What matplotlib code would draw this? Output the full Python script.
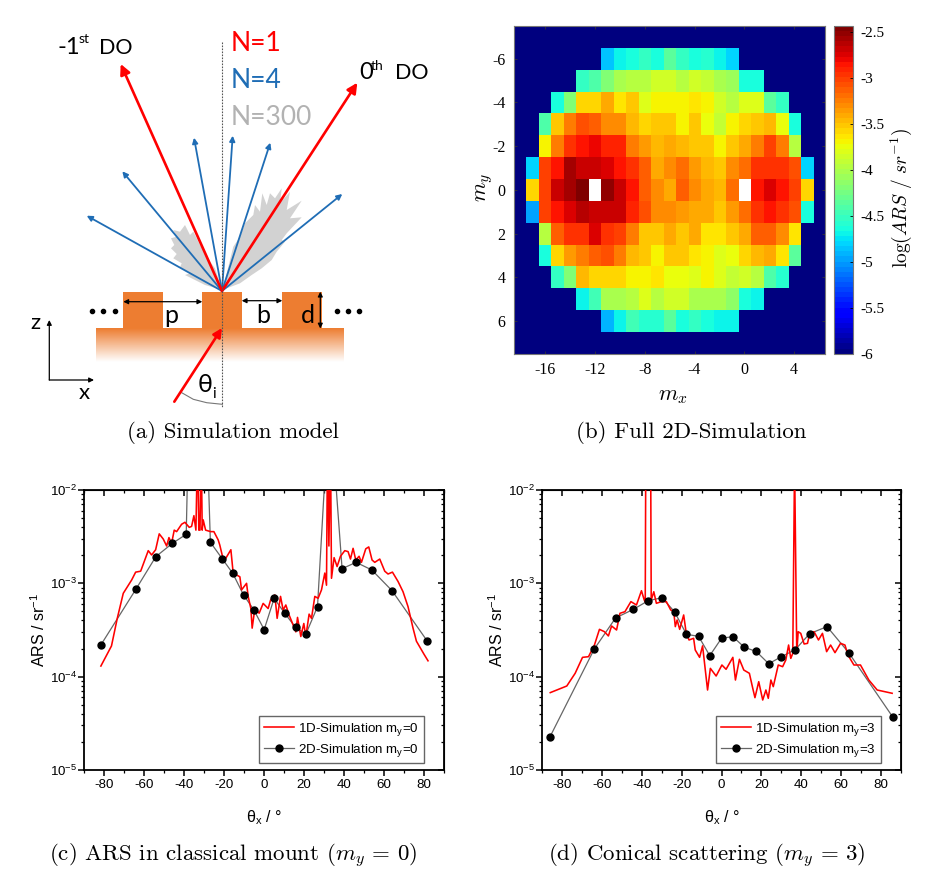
import numpy as np
import matplotlib
matplotlib.use('Agg')
import matplotlib.pyplot as plt
from matplotlib.colors import LinearSegmentedColormap
from matplotlib.patches import Rectangle, Polygon
from matplotlib.ticker import FixedLocator, NullFormatter

plt.rcParams['font.family'] = ['Liberation Sans', 'DejaVu Sans']
plt.rcParams['mathtext.fontset'] = 'custom'
plt.rcParams['mathtext.rm'] = 'Liberation Sans'
plt.rcParams['mathtext.it'] = 'Liberation Sans:italic'
plt.rcParams['axes.unicode_minus'] = False

W, H = 937, 884

# ---- panel (b): log(ARS), one list per my row, first_col is the index of mx=-18+col
my_rows = [-6, -5, -4, -3, -2, -1, 0, 1, 2, 3, 4, 5, 6]
first_col = [7, 5, 3, 2, 2, 1, 1, 1, 2, 2, 3, 5, 7]
row_m6 = [-4.86, -4.68, -4.62, -4.55, -4.62, -4.36, -4.55, -4.63, -4.56, -4.68, -4.80]
row_m5 = [-4.5, -4.42, -4.22, -4.03, -3.98, -3.98, -3.85, -3.85, -3.95, -3.85, -3.93, -4.05, -4.1, -4.62, -4.62]
row_m4 = [-4.65, -4.2, -3.6, -3.6, -3.42, -3.62, -3.52, -3.82, -3.7, -3.7, -3.7, -3.62, -3.68, -3.87, -3.95, -3.83, -3.83, -4.35, -4.55]
row_m3 = [-4.4, -3.52, -3.25, -3.1, -3.15, -3.28, -3.32, -3.47, -3.6, -3.53, -3.53, -3.68, -3.5, -3.75, -3.93, -3.7, -3.6, -3.5, -3.45, -3.75, -4.63]
row_m2 = [-3.68, -3.27, -2.97, -2.87, -2.78, -2.93, -2.93, -3.22, -3.38, -3.47, -3.4, -3.47, -3.53, -3.55, -3.68, -3.53, -3.42, -3.23, -3.03, -3.22, -3.97]
row_m1 = [-4.8, -3.05, -2.85, -2.6, -2.68, -2.68, -2.72, -2.85, -2.97, -3.15, -3.42, -3.3, -3.2, -3.38, -3.45, -3.55, -3.33, -3.18, -2.95, -2.95, -2.95, -3.1, -4.8]
row_0 = [-3.58, -3.02, -2.7, -2.58, -2.45, np.nan, -2.55, -2.7, -2.85, -3.12, -3.33, -3.43, -3.12, -3.3, -3.43, -3.48, -3.2, np.nan, -2.87, -2.72, -2.85, -3.03, -3.58]
row_p1 = [-4.95, -3.05, -2.85, -2.72, -2.62, -2.68, -2.7, -2.7, -2.93, -3.1, -3.33, -3.28, -3.35, -3.4, -3.42, -3.52, -3.38, -3.17, -2.95, -2.87, -2.95, -3.1, -4.65]
row_p2 = [-3.95, -3.12, -2.95, -2.95, -2.75, -2.95, -3.03, -3.27, -3.5, -3.5, -3.42, -3.5, -3.43, -3.63, -3.63, -3.53, -3.42, -3.15, -3.15, -3.3, -3.65]
row_p3 = [-4.63, -3.6, -3.37, -3.25, -3.13, -3.07, -3.27, -3.47, -3.52, -3.68, -3.53, -3.53, -3.63, -3.7, -3.82, -3.74, -3.6, -3.47, -3.43, -3.65, -4.35]
row_p4 = [-4.5, -4.2, -3.47, -3.58, -3.58, -3.58, -3.7, -3.7, -3.62, -3.72, -3.72, -3.83, -3.68, -3.82, -3.9, -3.85, -3.97, -4.4, -4.6]
row_p5 = [-4.67, -4.45, -4.05, -4.05, -3.95, -3.8, -3.95, -3.88, -3.88, -4.05, -4.0, -4.05, -4.15, -4.65, -4.67]
row_p6 = [-4.9, -4.68, -4.45, -4.58, -4.58, -4.35, -4.62, -4.55, -4.62, -4.68, -4.72]
all_rows = [row_m6, row_m5, row_m4, row_m3, row_m2, row_m1, row_0, row_p1, row_p2, row_p3, row_p4, row_p5, row_p6]

# ---- panel (c): theta_x and log10(ARS), my=0
c_1d_x = [-81.7, -76.4, -73.5, -70.5, -66.3, -64.3, -61.8, -58, -56.3, -54.3, -52.5, -50.5, -48.8, -47.65, -46.3, -45, -43.8, -41.3, -39.65, -37.5, -36.3, -35.15, -34.15, -33.3, -32.7, -32.1, -31.5, -31, -30.5, -29.3, -26.8, -25.15, -23, -22.2, -20.8, -19.15, -16.65, -15.5, -12.15, -11.3, -8.8, -8, -6.65, -6, -4.65, -2.5, -0.5, 2, 3.2, 5.35, 6.5, 8.2, 9.5, 10.85, 12.5, 14.2, 15.85, 16.7, 18.35, 19.85, 20.85, 22.5, 23.7, 25.35, 27, 28.7, 30.35, 31.2, 31.7, 32.4, 33.2, 33.7, 35, 36.5, 38.2, 40.35, 42, 43.2, 44.5, 45.85, 47.5, 48.7, 50.85, 52.35, 54, 55.35, 57.85, 60.35, 62, 64.2, 67, 69.5, 72, 74.5, 76.2, 80, 82]
c_1d_y = [-3.886, -3.671, -3.375, -3.107, -2.964, -2.88, -2.87, -2.65, -2.696, -2.64, -2.47, -2.525, -2.6, -2.51, -2.57, -2.43, -2.446, -2.367, -2.346, -2.40, -2.39, -2.275, -2.43, -1.5, -2.43, -2.43, -1.5, -2.43, -2.32, -2.43, -2.446, -2.446, -2.535, -2.59, -2.715, -2.73, -2.64, -2.89, -2.93, -3.07, -3.0, -3.14, -3.27, -3.48, -3.27, -3.32, -3.215, -3.27, -3.18, -3.125, -3.375, -3.14, -3.286, -3.232, -3.34, -3.43, -3.52, -3.365, -3.57, -3.43, -3.57, -3.33, -3.375, -3.14, -3.16, -3.07, -2.89, -3.02, -1.5, -2.6, -1.5, -2.946, -2.725, -2.82, -2.71, -2.65, -2.66, -2.74, -2.625, -2.75, -2.71, -2.775, -2.63, -2.61, -2.75, -2.775, -2.74, -2.87, -2.90, -2.88, -2.98, -3.09, -3.25, -3.48, -3.62, -3.76, -3.83]
c_2d_x = [-81.7, -64, -54.2, -45.9, -39, -37.5, -29.2, -26.9, -21, -15.7, -10.3, -5.2, 0, 5, 10.3, 15.7, 20.9, 26.7, 32.7, 39, 46, 53.9, 64, 81.6]
c_2d_y = [-3.66, -3.057, -2.714, -2.571, -2.475, -1.0, -1.0, -2.56, -2.736, -2.893, -3.125, -3.282, -3.496, -3.161, -3.321, -3.471, -3.543, -3.25, -1.0, -2.843, -2.775, -2.857, -3.079, -3.618]
# the peak samples of the 2D series run off the top, no marker shows there
c_2d_marked = [0, 1, 2, 3, 4, 7, 8, 9, 10, 11, 12, 13, 14, 15, 16, 17, 19, 20, 21, 22, 23]

# ---- panel (d): theta_x and log10(ARS), my=3
d_1d_x = [-86, -77.7, -73.5, -69.8, -66.8, -63.8, -61.3, -58.8, -56.8, -55.2, -52.7, -51, -48.5, -45.5, -42.7, -40.2, -38.8, -38.3, -38, -35.6, -35.3, -34, -32.7, -30.2, -27.7, -25.5, -24, -23.2, -22.3, -21, -19, -17.7, -16.3, -14, -13.2, -11, -9.5, -7, -5.6, -2.7, 0.2, 2.3, 5.7, 7, 9, 11.2, 14, 15.7, 16.8, 18.7, 20.7, 22.3, 23.5, 24.8, 26, 28.5, 30.7, 32.3, 33.7, 34.8, 35.8, 36.7, 37.8, 38.5, 39.8, 41.5, 43.2, 44.3, 46.5, 48.7, 50.7, 52.8, 54.8, 57, 59.8, 62, 63.5, 66.5, 69.8, 74, 78.2, 85.7]
d_1d_y = [-4.171, -4.10, -3.964, -3.793, -3.786, -3.66, -3.493, -3.518, -3.564, -3.457, -3.5, -3.321, -3.304, -3.196, -3.232, -3.079, -3.179, -3.2, -1.5, -1.5, -3.18, -3.09, -3.214, -3.196, -3.196, -3.286, -3.30, -3.464, -3.393, -3.493, -3.339, -3.536, -3.607, -3.589, -3.714, -3.793, -3.67, -4.143, -3.911, -3.993, -3.875, -3.921, -3.793, -4.036, -3.814, -3.929, -3.964, -4.125, -4.225, -4.054, -4.25, -4.143, -4.232, -4.036, -4.107, -3.875, -3.893, -3.821, -3.661, -3.804, -3.75, -1.7, -3.75, -3.518, -3.536, -3.65, -3.643, -3.536, -3.518, -3.607, -3.536, -3.732, -3.661, -3.743, -3.643, -3.661, -3.768, -3.875, -3.875, -4.036, -4.143, -4.178]
d_2d_x = [-86.1, -63.9, -53.2, -44.3, -36.8, -29.9, -23.6, -17.6, -11.5, -5.9, 0, 5.7, 11.5, 17.4, 23.7, 30.1, 37, 44.3, 53, 63.9, 86]
d_2d_y = [-4.643, -3.704, -3.371, -3.279, -3.186, -3.154, -3.304, -3.546, -3.568, -3.775, -3.589, -3.571, -3.686, -3.729, -3.861, -3.786, -3.711, -3.539, -3.464, -3.743, -4.432]

# ---- panel (a): schematic, in image pixels
hit = (222, 291)
blue_tips = [(86.7, 215.7), (122.3, 171.3), (194, 137.7), (232.7, 135.7), (270.3, 142.7), (342.3, 194)]
red_tips = [(120.7, 64), (357.3, 82.7)]
incident = [(174.3, 401.7), (222, 328)]
tooth_left = [123, 202.3, 281.7]
fan_left = [(222.3, 290), (205, 285), (185, 275), (190, 273.3), (180, 267.3), (181.7, 263.3), (173.3, 258.3), (176.7, 254), (171, 248.3), (174.3, 245), (171, 238.3), (176.7, 236.7), (173.3, 230), (180, 231.7), (185, 225), (190, 235), (193.3, 231.7), (200, 245), (205, 251.7), (210, 261.7), (215, 268.3), (220, 283.3)]
fan_right = [(222.3, 290), (225, 280), (230, 260), (233.3, 246.7), (240, 236.7), (245, 223.3), (253.3, 215), (255, 205), (260, 211.7), (262.3, 193.3), (266.7, 205), (270, 193.3), (275, 198.3), (281.7, 188.3), (280, 203.3), (290, 191.7), (286.7, 210), (301.7, 200.7), (290, 218.3), (301.7, 217.3), (286.7, 233.3), (281.7, 240), (285, 241.7), (276.7, 251.7), (271.7, 260), (261.7, 268.3), (251.7, 275), (240, 283.3)]
arc_x = [181.7, 193.3, 206.7, 222.3]
arc_y = [392.7, 399.3, 402.7, 404.3]

ORANGE = '#ed7d31'
BLUE = '#1f6db5'
RED = '#ff0000'
GREY = '#b2b2b2'


def px_axes(x0, y0, x1, y1):
    return fig.add_axes([x0 / W, 1 - y1 / H, (x1 - x0) / W, (y1 - y0) / H])


def arrow(a, start, end, color, lw, size, style='-|>'):
    a.annotate('', xy=end, xytext=start,
               arrowprops=dict(arrowstyle=style, color=color, lw=lw, mutation_scale=size,
                               shrinkA=0, shrinkB=0))


def draw_ars(a, x1d, y1d, x2d, y2d, marked, my):
    a.plot(x1d, 10 ** np.array(y1d), color='red', lw=1.15, zorder=3, label='1D-Simulation m$_{\\mathregular{y}}$=%d' % my)
    a.plot(x2d, 10 ** np.array(y2d), color='#666666', lw=0.9, zorder=2)
    mx = [x2d[i] for i in marked]
    my_vals = [10 ** y2d[i] for i in marked]
    a.plot(mx, my_vals, 'o', color='black', ms=5, zorder=4)
    # legend handle for the line + marker series
    a.plot([], [], '-o', color='#666666', mfc='black', mec='black', ms=5, lw=0.9,
           label='2D-Simulation m$_{\\mathregular{y}}$=%d' % my)
    a.set_xlim(-90, 90)
    a.set_yscale('log')
    a.set_ylim(1e-5, 1e-2)
    a.set_xticks(np.arange(-80, 81, 20))
    a.set_xticks(np.arange(-90, 91, 10), minor=True)
    a.set_yticks([1e-5, 1e-4, 1e-3, 1e-2])
    a.set_yticklabels(['$\\mathregular{10^{-5}}$', '$\\mathregular{10^{-4}}$', '$\\mathregular{10^{-3}}$', '$\\mathregular{10^{-2}}$'])
    a.yaxis.set_minor_locator(FixedLocator([m * 10.0 ** e for e in (-5, -4, -3) for m in range(2, 10)]))
    a.yaxis.set_minor_formatter(NullFormatter())
    a.tick_params(which='major', length=4.2, width=1.1, labelsize=9.6, pad=2)
    a.tick_params(which='minor', length=2.4, width=0.9)
    a.tick_params(axis='y', which='major', pad=1)
    for s in a.spines.values():
        s.set_linewidth(1.3)
    top = a.secondary_xaxis('top')
    top.set_xticks(np.arange(-80, 81, 20))
    top.set_xticks(np.arange(-90, 91, 10), minor=True)
    top.tick_params(which='both', direction='in', labeltop=False)
    top.tick_params(which='major', length=4.2, width=1.1)
    top.tick_params(which='minor', length=2.4, width=0.9)
    right = a.secondary_yaxis('right')
    right.set_yticks([1e-5, 1e-4, 1e-3, 1e-2])
    right.yaxis.set_minor_locator(FixedLocator([m * 10.0 ** e for e in (-5, -4, -3) for m in range(2, 10)]))
    right.yaxis.set_minor_formatter(NullFormatter())
    right.tick_params(which='both', direction='in', labelright=False)
    right.tick_params(which='major', length=4.2, width=1.1)
    right.tick_params(which='minor', length=2.4, width=0.9)
    a.set_ylabel('ARS / sr$^{\\mathregular{-1}}$', fontsize=11.5, labelpad=1)
    a.set_xlabel('$\\mathregular{\\theta_x}$ / °', fontsize=11.5, labelpad=13)
    leg = a.legend(loc='lower right', bbox_to_anchor=(0.944, 0.024), fontsize=9.6, fancybox=False,
                   edgecolor='#666666', framealpha=1, borderaxespad=0, labelspacing=0.28,
                   handlelength=2.3, handletextpad=0.3, borderpad=0.35)
    leg.get_frame().set_linewidth(1.0)


fig = plt.figure(figsize=(W / 100, H / 100), dpi=100)

# panel (a) + captions share one overlay in pixel coordinates
ov = fig.add_axes([0, 0, 1, 1])
ov.set_xlim(0, W)
ov.set_ylim(H, 0)
ov.axis('off')

ramp = LinearSegmentedColormap.from_list('ramp', [ORANGE, '#ffffff'])
ov.imshow(np.linspace(0, 1, 64).reshape(-1, 1), cmap=ramp, aspect='auto', extent=[95.7, 343.3, 361.7, 328], zorder=1)
ov.set_xlim(0, W)
ov.set_ylim(H, 0)
for x in tooth_left:
    ov.add_patch(Rectangle((x, 291.7), 40, 36.6, facecolor=ORANGE, edgecolor='none', zorder=1))
ov.add_patch(Polygon(fan_left, closed=True, facecolor='#d2d2d2', edgecolor='none', zorder=2))
ov.add_patch(Polygon(fan_right, closed=True, facecolor='#d2d2d2', edgecolor='none', zorder=2))
ov.plot([222.3, 222.3], [41.7, 408], color='#555555', lw=0.8, ls=(0, (1.5, 1.2)), zorder=5)
ov.plot(arc_x, arc_y, color='#777777', lw=0.8, zorder=3)
for tip in blue_tips:
    arrow(ov, hit, tip, BLUE, 1.3, 8)
for tip in red_tips:
    arrow(ov, hit, tip, RED, 1.9, 15)
arrow(ov, incident[0], incident[1], RED, 1.9, 13)
arrow(ov, (123.3, 301.7), (202.3, 301.7), 'black', 0.9, 7, '<|-|>')
arrow(ov, (241.7, 300.7), (282.3, 300.7), 'black', 0.9, 7, '<|-|>')
arrow(ov, (320.3, 291.7), (320.3, 328.5), 'black', 0.9, 7, '<|-|>')
arrow(ov, (49.3, 380), (49.3, 320), 'black', 0.9, 7)
arrow(ov, (49.3, 380), (94, 380), 'black', 0.9, 7)
ov.plot([91.7, 103.3, 115, 336.7, 347.7, 359], [310.7] * 6, 'o', color='black', ms=3, zorder=4)


def label(x, y, s, color='black', size=18, **kw):
    ov.text(x, y, s, color=color, fontsize=size, family=['Lato', 'DejaVu Sans'], zorder=6, **kw)


label(231, 51, 'N=1', RED, 19)
label(231, 88, 'N=4', BLUE, 19)
label(231, 125, 'N=300', GREY, 19)
label(58, 54, '-1', size=17)
label(79, 43, 'st', size=10)
label(99, 54, 'DO', size=15.5)
label(359, 79, '0', size=17)
label(371, 70, 'th', size=10)
label(395, 79, 'DO', size=15.5)
label(164, 323, 'p', size=18)
label(256.5, 323, 'b', size=18)
label(300.5, 323, 'd', size=18)
label(30, 329, 'z', size=16)
label(79, 399, 'x', size=16)
label(197.5, 392, 'θ', size=18)
label(212, 398, 'i', size=11)

# panel (b)
grid = np.full((15, 25), -6.0)
for my, start, vals in zip(my_rows, first_col, all_rows):
    grid[my + 7, start:start + len(vals)] = vals

cmap = plt.get_cmap('jet', 64).copy()
cmap.set_bad('white')
ax_b = px_axes(514, 26, 825.3, 353.7)
im = ax_b.imshow(grid, cmap=cmap, vmin=-6, vmax=-2.44, aspect='auto', extent=[-18.5, 6.5, 7.5, -7.5], interpolation='nearest')
ax_b.set_xticks(np.arange(-16, 5, 4))
ax_b.set_yticks(np.arange(-6, 7, 2))
ax_b.tick_params(direction='in', length=2, width=0.6, color='#333333', top=True, right=True, labelsize=11.5, pad=6)
for lab in ax_b.get_xticklabels() + ax_b.get_yticklabels():
    lab.set_family('Liberation Serif')
for s in ax_b.spines.values():
    s.set_color('#777777')
    s.set_linewidth(0.8)

ax_cb = px_axes(834, 26, 853.3, 353.7)
cb = fig.colorbar(im, cax=ax_cb)
cb.set_ticks([-6, -5.5, -5, -4.5, -4, -3.5, -3, -2.5])
cb.set_ticklabels(['-6', '-5.5', '-5', '-4.5', '-4', '-3.5', '-3', '-2.5'])
ax_cb.tick_params(length=2, width=0.6, direction='in', labelsize=11, pad=5)
for lab in ax_cb.get_yticklabels():
    lab.set_family('Liberation Serif')
cb.outline.set_edgecolor('#777777')
cb.outline.set_linewidth(0.8)

ov.text(673, 395, '$m_x$', fontsize=16, ha='center', va='center', math_fontfamily='cm', zorder=6)
ov.text(485, 187, '$m_y$', fontsize=16, ha='center', va='center', rotation=90, math_fontfamily='cm', zorder=6)
ov.text(901, 198, '$\\log(ARS\\ /\\ sr^{-1})$', fontsize=14, ha='center', va='center', rotation=90,
        math_fontfamily='cm', family='cmr10', zorder=6)

# panels (c), (d)
ax_c = px_axes(84.3, 490, 444, 770)
draw_ars(ax_c, c_1d_x, c_1d_y, c_2d_x, c_2d_y, c_2d_marked, 0)
ax_d = px_axes(542.3, 490, 900.7, 770)
draw_ars(ax_d, d_1d_x, d_1d_y, d_2d_x, d_2d_y, list(range(len(d_2d_x))), 3)

# captions
for x, y, s in [(233, 433, '(a) Simulation model'),
                (691, 433, '(b) Full 2D-Simulation'),
                (233, 856, '(c) ARS in classical mount ($m_y\\, =\\, 0$)'),
                (707, 856, '(d) Conical scattering ($m_y\\, =\\, 3$)')]:
    ov.text(x, y, s, family='cmr10', math_fontfamily='cm', fontsize=16.5, ha='center', va='center', zorder=6)

fig.savefig('out.png', dpi=100)
